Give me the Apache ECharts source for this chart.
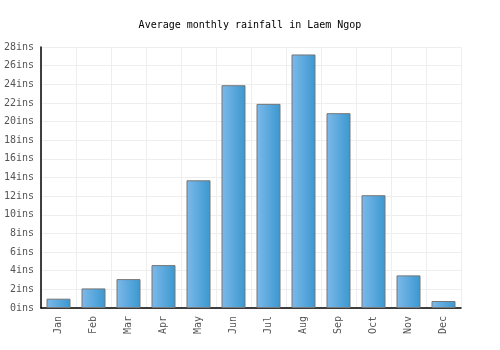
<!DOCTYPE html>
<html>
<head>
<meta charset="utf-8">
<script src="https://cdn.jsdelivr.net/npm/echarts@6/dist/echarts.min.js"></script>
<style>
  html, body { margin: 0; padding: 0; background: #fff; }
  #chart { width: 500px; height: 350px; }
</style>
</head>
<body>
<div id="chart"></div>
<script>
var months = ['Jan', 'Feb', 'Mar', 'Apr', 'May', 'Jun', 'Jul', 'Aug', 'Sep', 'Oct', 'Nov', 'Dec'];
var rainfall = [1.0, 2.1, 3.1, 4.6, 13.7, 23.9, 21.9, 27.2, 20.9, 12.1, 3.5, 0.75];

var font = '"DejaVu Sans Mono", monospace';

echarts.init(document.querySelector('#chart')).setOption({
    animation: false,
    title: {
        text: 'Average monthly rainfall in Laem Ngop',
        left: 'center',
        top: 15,
        textStyle: { fontFamily: font, fontSize: 10, fontWeight: 'normal', color: '#000' }
    },
    grid: { left: 41, right: 39, top: 47, bottom: 42 },
    xAxis: {
        type: 'category',
        data: months,
        axisLine: { lineStyle: { color: '#000', width: 1.5 } },
        axisTick: { show: false },
        axisLabel: { rotate: 90, color: '#555', fontFamily: font, fontSize: 10, margin: 8 },
        splitLine: { show: true, lineStyle: { color: '#eee' } }
    },
    yAxis: {
        type: 'value',
        min: 0,
        max: 28,
        interval: 2,
        axisLine: { show: true, lineStyle: { color: '#000', width: 1.5 } },
        axisTick: { show: false },
        axisLabel: { formatter: '{value}ins', color: '#555', fontFamily: font, fontSize: 10, margin: 7 },
        splitLine: { lineStyle: { color: '#eee' } }
    },
    series: [{
        type: 'bar',
        data: rainfall,
        barWidth: 24,
        itemStyle: {
            color: new echarts.graphic.LinearGradient(0, 0, 1, 0, [
                { offset: 0, color: '#7db9ea' },
                { offset: 1, color: '#3a98d0' }
            ]),
            borderColor: '#777',
            borderWidth: 1
        }
    }]
});
</script>
</body>
</html>
